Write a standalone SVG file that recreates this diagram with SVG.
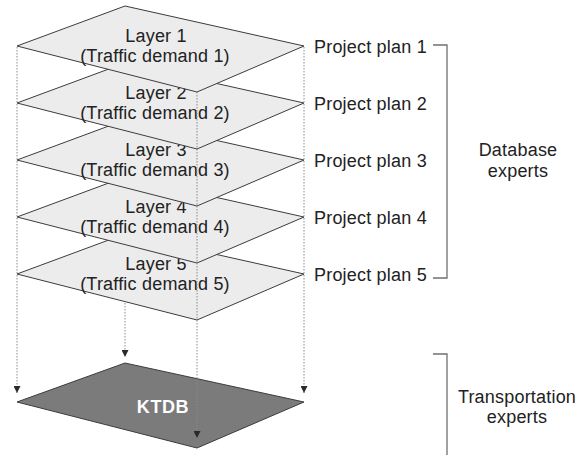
<svg xmlns="http://www.w3.org/2000/svg" width="585" height="455" viewBox="0 0 585 455">
<defs>
<style>
.layer{fill:#ececec;stroke:#3c3c3c;stroke-width:1}
.db{fill:#7b7b7b;stroke:#3c3c3c;stroke-width:1}
.t{font-family:"Liberation Sans",Arial,sans-serif;font-size:18px;fill:#222222;letter-spacing:0.2px}
.c{text-anchor:middle}
.k{font-family:"Liberation Sans",Arial,sans-serif;font-size:18px;font-weight:bold;fill:#ffffff;letter-spacing:0.6px;text-anchor:middle}
.dot{fill:none;stroke:#8a8a8a;stroke-width:1;stroke-dasharray:1.5 1.5}
.br{fill:none;stroke:#707070;stroke-width:1.3}
</style>
<marker id="ah" markerWidth="8" markerHeight="7" refX="7" refY="3.5" orient="auto" markerUnits="userSpaceOnUse">
<path d="M0,0 L7,3.5 L0,7 Z" fill="#2a2a2a"/>
</marker>
</defs>
<g id="ktdb">
<polygon class="db" points="17,402 125,363 304,402 197,448"/>
<text class="k" x="163" y="413">KTDB</text>
</g>
<g id="layer5">
<polygon class="layer" points="17,274 125,234 304,274 197,320"/>
<text class="t c" x="156" y="270">Layer 5</text>
<text class="t c" x="155" y="290">(Traffic demand 5)</text>
</g>
<g id="layer4">
<polygon class="layer" points="17,217 125,177 304,217 197,263"/>
<text class="t c" x="156" y="213">Layer 4</text>
<text class="t c" x="155" y="233">(Traffic demand 4)</text>
</g>
<g id="layer3">
<polygon class="layer" points="17,160 125,120 304,160 197,206"/>
<text class="t c" x="156" y="156">Layer 3</text>
<text class="t c" x="155" y="176">(Traffic demand 3)</text>
</g>
<g id="layer2">
<polygon class="layer" points="17,103 125,63 304,103 197,149"/>
<text class="t c" x="156" y="99">Layer 2</text>
<text class="t c" x="155" y="119">(Traffic demand 2)</text>
</g>
<g id="layer1">
<polygon class="layer" points="17,46 125,6 304,46 197,92"/>
<text class="t c" x="156" y="42">Layer 1</text>
<text class="t c" x="155" y="62">(Traffic demand 1)</text>
</g>
<g id="connectors">
<line class="dot" x1="17" y1="47" x2="17" y2="393" marker-end="url(#ah)"/>
<line class="dot" x1="304" y1="47" x2="304" y2="393" marker-end="url(#ah)"/>
<line class="dot" x1="197" y1="92" x2="197" y2="438" marker-end="url(#ah)"/>
<line class="dot" x1="125" y1="303" x2="125" y2="357" marker-end="url(#ah)"/>
</g>
<g id="plans">
<text class="t" x="314" y="53">Project plan 1</text>
<text class="t" x="314" y="110">Project plan 2</text>
<text class="t" x="314" y="167">Project plan 3</text>
<text class="t" x="314" y="224">Project plan 4</text>
<text class="t" x="314" y="281">Project plan 5</text>
</g>
<g id="database-experts">
<polyline class="br" points="433,45 447,45 447,278 433,278"/>
<text class="t c" x="518" y="156">Database</text>
<text class="t c" x="518" y="177">experts</text>
</g>
<g id="transportation-experts">
<polyline class="br" points="433,354 447,354 447,455"/>
<text class="t c" x="517" y="403">Transportation</text>
<text class="t c" x="517" y="423">experts</text>
</g>
</svg>
